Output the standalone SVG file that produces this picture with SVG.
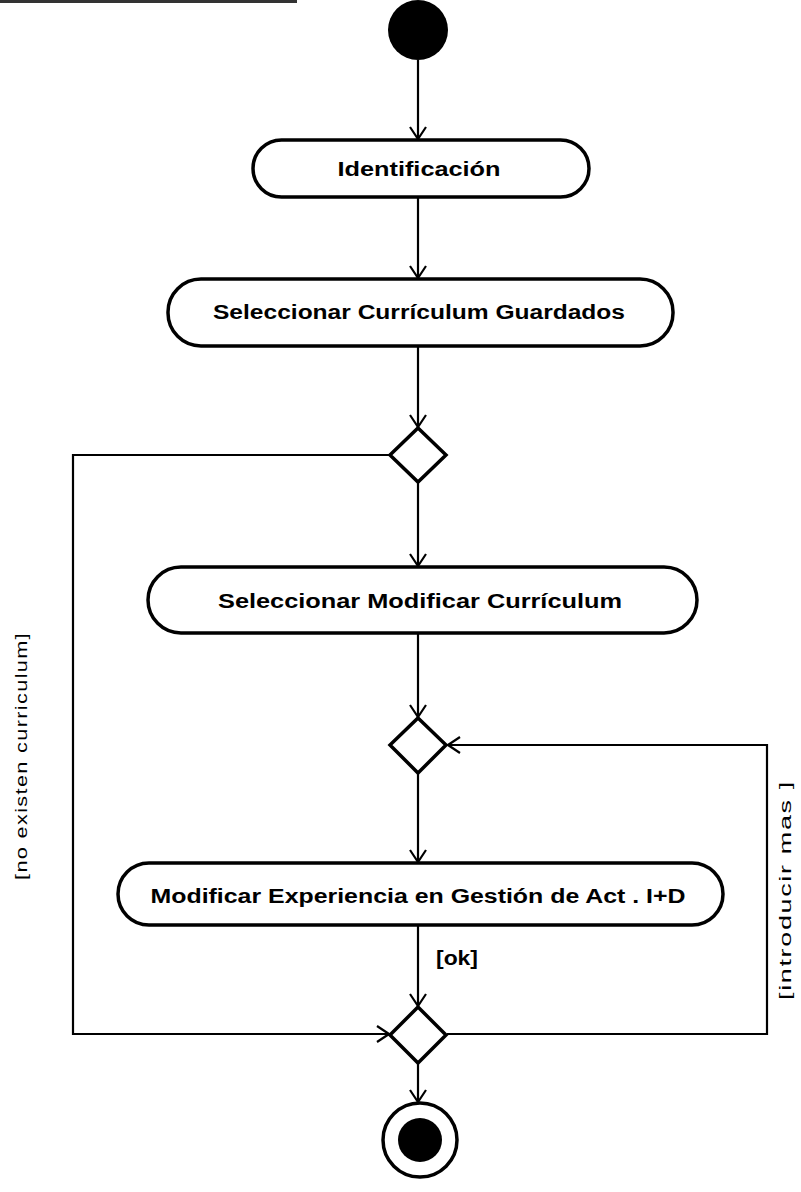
<svg xmlns="http://www.w3.org/2000/svg" width="801" height="1192" viewBox="0 0 801 1192">
<style>
.node{fill:#fff;stroke:#000;stroke-width:3.5}
.lbl{font-family:"Liberation Sans",Arial,sans-serif;font-weight:bold;font-size:20px;fill:#000;text-anchor:middle}
.g{font-family:"Liberation Sans",Arial,sans-serif;font-size:16px;fill:#000;text-anchor:middle;letter-spacing:1px}
.c{fill:none;stroke:#000;stroke-width:2.2}
</style>
<defs>
<marker id="ar" viewBox="0 0 14 18" refX="13" refY="9" markerWidth="14" markerHeight="18" markerUnits="userSpaceOnUse" orient="auto">
<path d="M1,1 L13,9 L1,17" fill="none" stroke="#000" stroke-width="2.2"/>
</marker>
</defs>
<rect x="0" y="0" width="297" height="3" fill="#333"/>
<g id="start"><circle cx="418" cy="30" r="30" fill="#000"/></g>
<g id="n1"><rect class="node" x="253" y="140" width="336" height="57" rx="28.5"/><text class="lbl" x="419" y="176" textLength="163" lengthAdjust="spacingAndGlyphs">Identificación</text></g>
<g id="n2"><rect class="node" x="168" y="279" width="505" height="67" rx="33"/><text class="lbl" x="419" y="319" textLength="412" lengthAdjust="spacingAndGlyphs">Seleccionar Currículum Guardados</text></g>
<g id="d1"><polygon class="node" points="418,428 446,455 418,482 390,455"/></g>
<g id="n3"><rect class="node" x="148" y="567" width="549" height="66" rx="33"/><text class="lbl" x="420" y="608" textLength="404" lengthAdjust="spacingAndGlyphs">Seleccionar Modificar Currículum</text></g>
<g id="d2"><polygon class="node" points="418,718 446,745 418,773 390,745"/></g>
<g id="n4"><rect class="node" x="118" y="863" width="605" height="62" rx="31"/><text class="lbl" x="418" y="903" textLength="535" lengthAdjust="spacingAndGlyphs">Modificar Experiencia en Gestión de Act . I+D</text></g>
<g id="d3"><polygon class="node" points="418,1007 446,1035 418,1063 390,1035"/></g>
<g id="end"><circle cx="420" cy="1140" r="37" fill="#fff" stroke="#000" stroke-width="3.5"/><circle cx="420" cy="1140" r="22" fill="#000"/></g>
<g id="connectors">
<line class="c" x1="418" y1="60" x2="418" y2="139" marker-end="url(#ar)"/>
<line class="c" x1="418" y1="198" x2="418" y2="278" marker-end="url(#ar)"/>
<line class="c" x1="418" y1="347" x2="418" y2="427" marker-end="url(#ar)"/>
<line class="c" x1="418" y1="483" x2="418" y2="566" marker-end="url(#ar)"/>
<line class="c" x1="418" y1="634" x2="418" y2="717" marker-end="url(#ar)"/>
<line class="c" x1="418" y1="774" x2="418" y2="862" marker-end="url(#ar)"/>
<line class="c" x1="418" y1="926" x2="418" y2="1006" marker-end="url(#ar)"/>
<line class="c" x1="418" y1="1064" x2="418" y2="1102" marker-end="url(#ar)"/>
<polyline class="c" points="390,455 73,455 73,1034 389,1034" marker-end="url(#ar)"/>
<polyline class="c" points="447,1034 767,1034 767,745 448,745" marker-end="url(#ar)"/>
<text class="lbl" x="457" y="965" font-size="19" textLength="42" lengthAdjust="spacingAndGlyphs">[ok]</text>
<text class="g" transform="translate(27,756) rotate(-90)" textLength="248" lengthAdjust="spacingAndGlyphs">[no existen curriculum]</text>
<text class="g" transform="translate(791,890) rotate(-90)" textLength="220" lengthAdjust="spacingAndGlyphs">[introducir mas ]</text>
</g>
</svg>
